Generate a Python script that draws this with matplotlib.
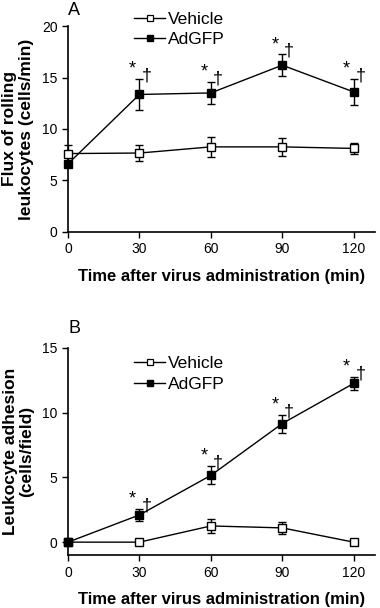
import numpy as np
import matplotlib
matplotlib.use("Agg")
import matplotlib.pyplot as plt
from matplotlib.lines import Line2D

plt.rcParams['font.family'] = ['Liberation Sans', 'DejaVu Sans']

# time points (min)
times = [0, 30, 60, 90, 120]

# panel A: flux of rolling leukocytes (cells/min)
flux_vehicle = [7.6, 7.65, 8.25, 8.25, 8.1]
flux_vehicle_err = [0.8, 0.75, 0.95, 0.9, 0.55]
flux_adgfp = [6.6, 13.35, 13.5, 16.2, 13.6]
flux_adgfp_err = [0.3, 1.5, 1.05, 1.05, 1.3]

# panel B: leukocyte adhesion (cells/field)
adh_vehicle = [0.0, 0.0, 1.25, 1.1, 0.0]
adh_vehicle_err = [0.0, 0.0, 0.55, 0.45, 0.0]
adh_adgfp = [0.0, 2.1, 5.15, 9.15, 12.25]
adh_adgfp_err = [0.0, 0.45, 0.7, 0.7, 0.5]

xlabel = "Time after virus administration (min)"

fig = plt.figure(figsize=(3.8, 6.08), dpi=100)
axA = fig.add_axes([0.179, 0.619, 0.808, 0.338])
axB = fig.add_axes([0.179, 0.087, 0.808, 0.341])


def draw(ax, veh, veh_err, ad, ad_err, ylim, yticks, ylabel, letter, letter_y, leg_y):
    ax.errorbar(times, veh, yerr=veh_err, color='black', lw=1.0, marker='s', ms=6,
                mfc='white', mec='black', mew=1.0, capsize=3, elinewidth=1.0,
                zorder=3, clip_on=False)
    ax.errorbar(times, ad, yerr=ad_err, color='black', lw=1.0, marker='s', ms=6,
                mfc='black', mec='black', capsize=3, elinewidth=1.0,
                zorder=4, clip_on=False)
    for t, v, e in zip(times[1:], ad[1:], ad_err[1:]):
        ax.annotate('*', (t, v + e), xytext=(-5, 1), textcoords='offset points',
                    ha='center', va='bottom', fontsize=13)
        ax.annotate('\u2020', (t, v + e), xytext=(5, -4), textcoords='offset points',
                    ha='center', va='bottom', fontsize=13)
    ax.set_xlim(0, 129)
    ax.set_ylim(*ylim)
    ax.set_xticks(times)
    ax.set_yticks(yticks)
    for s in ['top', 'right']:
        ax.spines[s].set_visible(False)
    ax.spines['left'].set_bounds(ylim[0], yticks[-1])
    ax.spines['left'].set_linewidth(1.2)
    ax.spines['bottom'].set_linewidth(1.2)
    ax.tick_params(direction='out', length=4, width=1.0, labelsize=10)
    ax.set_xlabel(xlabel, fontsize=12, fontweight='bold', labelpad=9)
    ax.set_ylabel(ylabel, fontsize=12.5, fontweight='bold', labelpad=6,
                  linespacing=1.1)
    ax.text(0.0, letter_y, letter, transform=ax.transAxes, fontsize=13,
            ha='left', va='bottom')
    handles = [Line2D([], [], color='black', lw=1.0, marker='s', ms=4.5,
                      mfc='white', mec='black', mew=0.9),
               Line2D([], [], color='black', lw=1.0, marker='s', ms=4.5,
                      mfc='black', mec='black')]
    ax.legend(handles, ['Vehicle', 'AdGFP'], loc='upper left',
              bbox_to_anchor=(0.215, leg_y), frameon=False,
              fontsize=12.5, handlelength=1.8, handletextpad=0.15,
              borderpad=0, borderaxespad=0, labelspacing=0.3)


draw(axA, flux_vehicle, flux_vehicle_err, flux_adgfp, flux_adgfp_err,
     (0, 20), [0, 5, 10, 15, 20], "Flux of rolling\nleukocytes (cells/min)",
     "A", 1.035, 1.07)
draw(axB, adh_vehicle, adh_vehicle_err, adh_adgfp, adh_adgfp_err,
     (-1, 15), [0, 5, 10, 15], "Leukocyte adhesion\n(cells/field)",
     "B", 1.05, 0.96)

fig.savefig("out.png", dpi=100)
